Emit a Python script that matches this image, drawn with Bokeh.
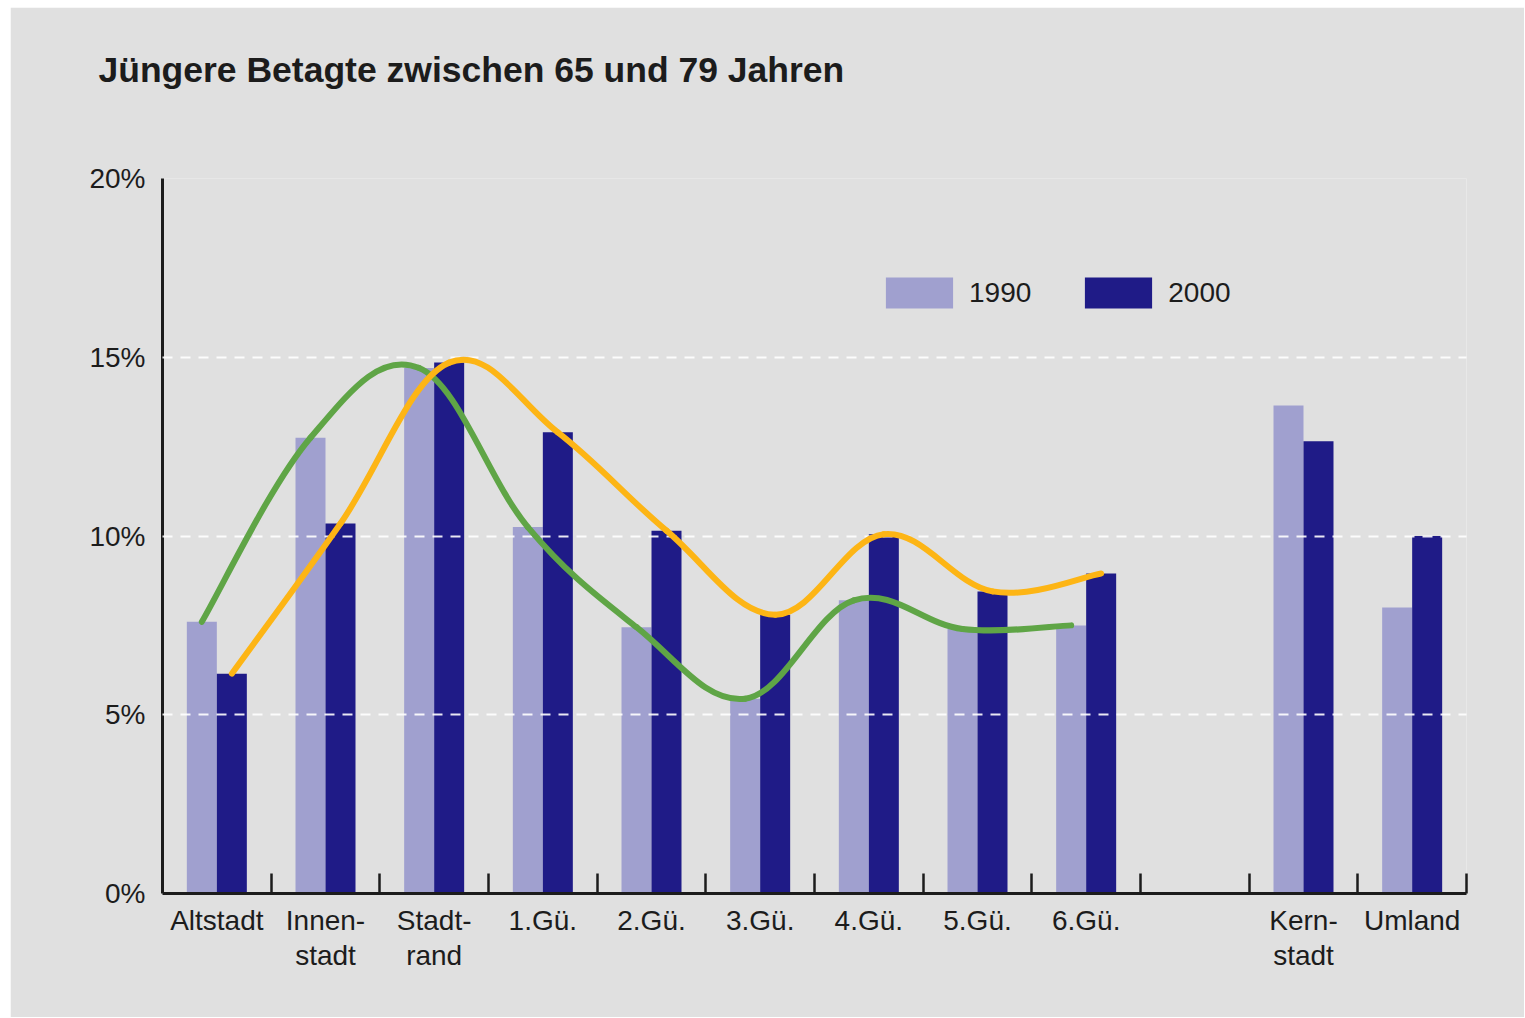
from bokeh.plotting import figure
from bokeh.models import Range1d, FixedTicker, Legend, LegendItem, ColumnDataSource, Title
from bokeh.embed import file_html
from bokeh.resources import INLINE

# ---------------- data ----------------
title_text = "Jüngere Betagte zwischen 65 und 79 Jahren"
categories = ["Altstadt", "Innen-\nstadt", "Stadt-\nrand", "1.Gü.", "2.Gü.", "3.Gü.",
              "4.Gü.", "5.Gü.", "6.Gü.", "Kern-\nstadt", "Umland"]
v1990 = [7.6, 12.75, 14.7, 10.25, 7.45, 5.45, 8.2, 7.4, 7.5, 13.65, 8.0]
v2000 = [6.15, 10.35, 14.85, 12.9, 10.15, 7.8, 10.05, 8.45, 8.95, 12.65, 10.0]
series_names = ["1990", "2000"]
y_ticks = [0, 5, 10, 15, 20]
y_tick_labels = ["0%", "5%", "10%", "15%", "20%"]
n_districts = 9  # trend curves run over the city districts only

# ---------------- style ----------------
BG = "#e0e0e0"
C1990 = "#a0a0cf"
C2000 = "#1f1b87"
GREEN = "#5fa546"
ORANGE = "#fdb515"
TXT = "#1c1c1c"
FONT = "Liberation Sans"

W, H = 1514, 1010
slot_px = 1304 / 12.0
off = 15 / slot_px
bw = 30 / slot_px

# slot positions: a blank slot between the districts and the summary columns
xs = [i if i < n_districts else i + 1 for i in range(len(categories))]

p = figure(width=W, height=H, x_range=Range1d(-0.5, 11.5), y_range=Range1d(0, 20),
           output_backend="svg", toolbar_location=None,
           min_border_left=152, min_border_right=58, min_border_top=171, min_border_bottom=124)
p.margin = (7, 0, 0, 10)
p.background_fill_color = BG
p.border_fill_color = BG
p.outline_line_color = None
p.xgrid.visible = False
p.title = None

# title: a blank spacer next to the frame, then the heading further out
p.add_layout(Title(text=" ", text_font_size="1px", standoff=86), "above")
p.add_layout(Title(text=title_text, align="left", offset=-64, standoff=0,
                   text_font=FONT, text_font_size="35.5px", text_font_style="bold",
                   text_color=TXT), "above")

# grid
p.ygrid.ticker = FixedTicker(ticks=[t for t in y_ticks if t > 0])
p.ygrid.grid_line_color = "white"
p.ygrid.grid_line_width = 2
p.ygrid.grid_line_dash = "10 8"
p.ygrid.grid_line_alpha = 0.9
p.ygrid.level = "guide"

# y axis
p.yaxis.ticker = FixedTicker(ticks=y_ticks)
p.yaxis.major_label_overrides = {t: l for t, l in zip(y_ticks, y_tick_labels)}
p.yaxis.major_tick_in = 0
p.yaxis.major_tick_out = 0
p.yaxis.minor_tick_in = 0
p.yaxis.minor_tick_out = 0
p.yaxis.axis_line_width = 3
p.yaxis.axis_line_color = TXT
p.yaxis.major_label_standoff = 17
p.yaxis.major_label_text_font = FONT
p.yaxis.major_label_text_font_size = "28px"
p.yaxis.major_label_text_color = TXT

# x axis
p.xaxis.ticker = FixedTicker(ticks=xs, minor_ticks=[i + 0.5 for i in range(12)])
p.xaxis.major_label_overrides = {x: c for x, c in zip(xs, categories)}
p.xaxis.major_tick_in = 0
p.xaxis.major_tick_out = 0
p.xaxis.minor_tick_in = 20
p.xaxis.minor_tick_out = 0
p.xaxis.minor_tick_line_width = 2.5
p.xaxis.minor_tick_line_color = TXT
p.xaxis.axis_line_width = 3
p.xaxis.axis_line_color = TXT
p.xaxis.major_label_standoff = 11
p.xaxis.major_label_text_font = FONT
p.xaxis.major_label_text_font_size = "28px"
p.xaxis.major_label_text_color = TXT
p.xaxis.major_label_text_line_height = 1.15

# bars
r1 = p.vbar(x=[x - off for x in xs], top=v1990, width=bw, bottom=0,
            fill_color=C1990, line_color=None)
r2 = p.vbar(x=[x + off for x in xs], top=v2000, width=bw, bottom=0,
            fill_color=C2000, line_color=None)


def catmull_bezier(px, py, k=5.5):
    n = len(px)
    d = dict(x0=[], y0=[], x1=[], y1=[], cx0=[], cy0=[], cx1=[], cy1=[])
    for i in range(n - 1):
        a = i - 1 if i > 0 else i
        b = i + 2 if i + 2 < n else i + 1
        d["x0"].append(px[i]); d["y0"].append(py[i])
        d["x1"].append(px[i + 1]); d["y1"].append(py[i + 1])
        d["cx0"].append(px[i] + (px[i + 1] - px[a]) / k)
        d["cy0"].append(py[i] + (py[i + 1] - py[a]) / k)
        d["cx1"].append(px[i + 1] - (px[b] - px[i]) / k)
        d["cy1"].append(py[i + 1] - (py[b] - py[i]) / k)
    return ColumnDataSource(d)


g = catmull_bezier([x - off for x in xs[:n_districts]], v1990[:n_districts])
o = catmull_bezier([x + off for x in xs[:n_districts]], v2000[:n_districts])
for src, col in ((g, GREEN), (o, ORANGE)):
    rr = p.bezier(x0="x0", y0="y0", x1="x1", y1="y1", cx0="cx0", cy0="cy0",
                  cx1="cx1", cy1="cy1", source=src, line_color=col, line_width=6,
                  line_cap="round")
    rr.level = "annotation"

# legend
legend = Legend(items=[LegendItem(label=series_names[0], renderers=[r1]),
                       LegendItem(label=series_names[1], renderers=[r2])],
                orientation="horizontal", location=(715, 581),
                glyph_width=84, glyph_height=39, label_standoff=8, label_width=62,
                spacing=45, padding=0, margin=0,
                background_fill_alpha=0, border_line_color=None,
                label_text_font=FONT, label_text_font_size="28px", label_text_color=TXT)
p.add_layout(legend, "center")

open("out.html", "w").write(file_html(p, INLINE))
